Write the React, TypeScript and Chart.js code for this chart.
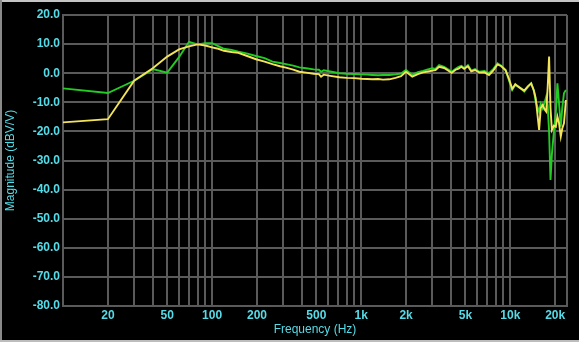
import React, { useEffect, useRef } from "react";
import { Chart, registerables } from "chart.js";

Chart.register(...registerables);

// Frequency points (Hz)
const freqs: number[] = [
  10, 20, 30, 40, 50, 60, 70, 80, 90, 100, 110, 120, 135, 150, 170, 197, 225, 254, 285, 313,
  350, 385, 427, 480, 520, 538, 560, 620, 714, 800, 900, 1000, 1100, 1187, 1300, 1400, 1543,
  1700, 1850, 1996, 2100, 2199, 2400, 2600, 2800, 2995, 3150, 3330, 3600, 3800, 4040, 4300,
  4500, 4700, 4900, 5200, 5470, 5800, 6200, 6700, 7200, 7700, 8200, 8700, 9300, 9800, 10300,
  10800, 11400, 12400, 13100, 13800, 14400, 14800, 15600, 16000, 16500, 17000, 17400, 17800,
  18200, 18600, 19000, 19600, 20200, 20700, 21200, 21800, 22300, 22900, 23600,
];

// Green trace (dBV/V)
const greenDb: number[] = [
  -5.2, -6.8, -2.6, 1.4, 0.2, 5.5, 10.8, 9.9, 10.3, 10.3, 9.3, 8.4, 8.0, 7.4, 6.8, 5.9, 5.2, 4.0, 3.5, 3.1,
  2.6, 2.0, 1.7, 1.3, 1.2, 0.5, 1.0, 0.6, 0.0, -0.2, -0.3, -0.4, -0.5, -0.6, -0.7, -0.6, -0.6,
  -0.4, -0.1, 1.1, 0.2, -0.6, 0.4, 0.8, 1.3, 1.7, 1.5, 2.8, 2.2, 1.4, 0.5, 1.5,
  2.2, 2.5, 1.8, 2.8, 0.9, 1.4, 0.5, 0.8, 0.0, 1.5, 3.4, 2.6, 1.1, -2.5, -5.8,
  -4.0, -4.6, -6.3, -4.8, -3.5, -6.0, -9.8, -13.2, -10.5, -12.1, -10.0, -8.1, -11.0,
  -20.0, -36.7, -28.0, -20.0, -13.6, -3.5, -10.0, -18.4, -12.0, -6.9, -5.8,
];

// Yellow trace (dBV/V)
const yellowDb: number[] = [
  -16.9, -15.8, -2.6, 1.7, 5.7, 8.2, 9.2, 9.9, 9.5, 8.9, 8.4, 7.7, 7.3, 7.0, 6.0, 4.8, 4.0, 3.1, 2.4, 1.9,
  1.2, 0.5, 0.2, -0.2, -0.3, -1.2, -0.5, -0.9, -1.4, -1.6, -1.7, -1.9, -2.0, -2.1, -2.0, -2.2, -2.1,
  -1.6, -1.0, 0.5, -0.4, -1.2, -0.3, 0.3, 0.6, 0.9, 1.1, 2.2, 1.8, 1.0, 0.1, 1.2,
  1.6, 2.2, 1.5, 2.4, 0.6, 1.1, 0.2, 0.3, -0.6, 1.0, 3.0, 2.4, 1.0, -2.0, -5.4,
  -3.8, -4.8, -6.0, -4.5, -3.5, -6.0, -8.6, -19.5, -12.0, -10.9, -12.5, -13.2, -5.0,
  5.7, -12.0, -19.5, -18.0, -18.4, -14.9, -17.0, -21.8, -19.0, -17.2, -9.2,
];

// Axis ticks
const xGridTicks: number[] = [
  10, 20, 30, 40, 50, 60, 70, 80, 90, 100, 200, 300, 400, 500, 600, 700, 800, 900,
  1000, 2000, 3000, 4000, 5000, 6000, 7000, 8000, 9000, 10000, 20000, 24000,
];
const xLabelValues: number[] = [20, 50, 100, 200, 500, 1000, 2000, 5000, 10000, 20000];
const xLabelTexts: string[] = ["20", "50", "100", "200", "500", "1k", "2k", "5k", "10k", "20k"];
const yMin = -80;
const yMax = 20;
const yStep = 10;

const CYAN = "rgb(84, 220, 232)";
const GRID = "#5a5a5a";
const FONT = "'Liberation Sans', Arial, Helvetica, sans-serif";

export default function App() {
  const ref = useRef<HTMLCanvasElement | null>(null);

  useEffect(() => {
    if (!ref.current) return;
    const chart = new Chart(ref.current, {
      type: "line",
      data: {
        datasets: [
          {
            label: "yellow",
            data: freqs.map((f, i) => ({ x: f, y: yellowDb[i] })),
            borderColor: "#f2e35a",
            borderWidth: 1.9,
            pointRadius: 0,
            tension: 0,
          },
          {
            label: "green",
            data: freqs.map((f, i) => ({ x: f, y: greenDb[i] })),
            borderColor: "#22cc22",
            borderWidth: 1.9,
            pointRadius: 0,
            tension: 0,
          },
        ],
      },
      options: {
        animation: false,
        responsive: true,
        maintainAspectRatio: false,
        layout: { padding: { top: 15, right: 12, left: 0, bottom: 0 } },
        plugins: { legend: { display: false }, tooltip: { enabled: false } },
        scales: {
          x: {
            type: "logarithmic",
            min: 10,
            max: 24000,
            afterBuildTicks: (axis: any) => {
              axis.ticks = xGridTicks.map((v) => ({ value: v }));
            },
            afterFit: (scale: any) => {
              scale.height = 36;
            },
            grid: { color: GRID, lineWidth: 2, drawTicks: false },
            border: { display: true, color: GRID, width: 2 },
            ticks: {
              autoSkip: false,
              maxRotation: 0,
              padding: 2,
              color: CYAN,
              font: { family: FONT, size: 12, weight: "bold" },
              callback: (v: any) => {
                const idx = xLabelValues.indexOf(Number(v));
                return idx >= 0 ? xLabelTexts[idx] : "";
              },
            },
            title: {
              display: true,
              text: "Frequency (Hz)",
              color: CYAN,
              font: { family: FONT, size: 12 },
              padding: { top: 0, bottom: 5 },
            },
          },
          y: {
            type: "linear",
            min: yMin,
            max: yMax,
            afterFit: (scale: any) => {
              scale.width = 63;
            },
            grid: { color: GRID, lineWidth: 2, drawTicks: false },
            border: { display: true, color: GRID, width: 2 },
            ticks: {
              stepSize: yStep,
              padding: 3,
              color: CYAN,
              font: { family: FONT, size: 12, weight: "bold" },
              callback: (v: any) => Number(v).toFixed(1),
            },
            title: {
              display: true,
              text: "Magnitude (dBV/V)",
              color: CYAN,
              font: { family: FONT, size: 12 },
              padding: { top: 3, bottom: 0 },
            },
          },
        },
      },
    });
    return () => chart.destroy();
  }, []);

  return (
    <div
      style={{
        position: "fixed",
        left: 0,
        top: 0,
        width: 579,
        height: 342,
        background: "#000",
        overflow: "hidden",
      }}
    >
      <canvas ref={ref} style={{ position: "absolute", left: 0, top: 0 }} />
      <div style={{ position: "absolute", left: 0, top: 0, width: 579, height: 2, background: "#c4c4c4" }} />
      <div style={{ position: "absolute", left: 0, top: 0, width: 2, height: 342, background: "#8a8a8a" }} />
      <div style={{ position: "absolute", left: 0, bottom: 0, width: 579, height: 2, background: "#bdbdbd" }} />
    </div>
  );
}
